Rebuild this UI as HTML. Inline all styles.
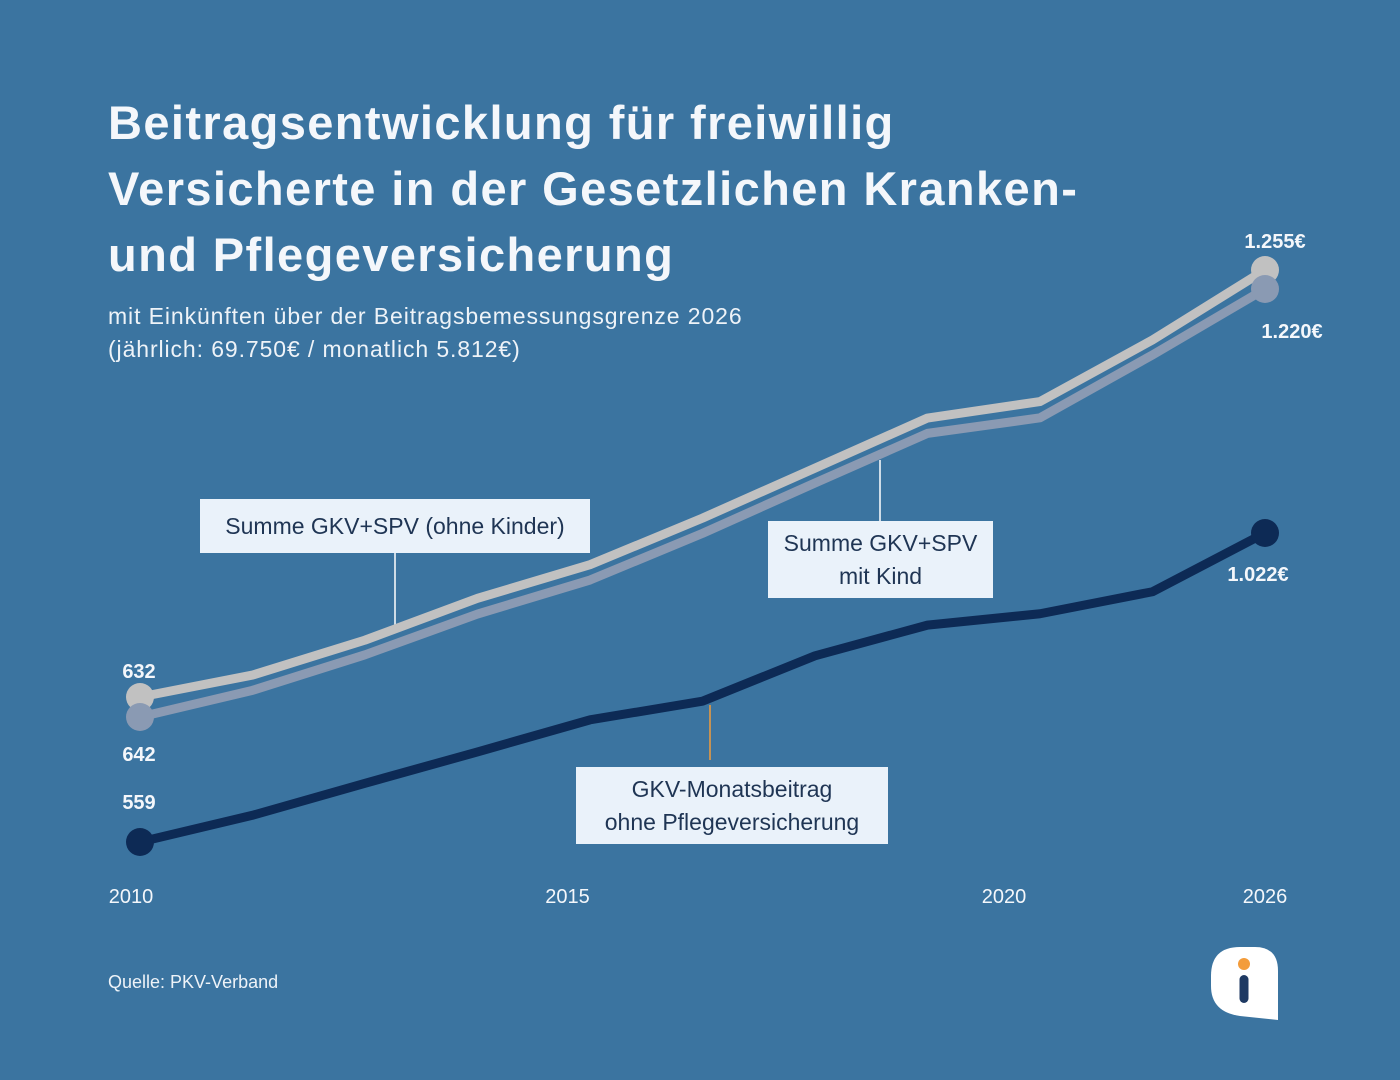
<!DOCTYPE html>
<html><head><meta charset="utf-8"><style>
html,body{margin:0;padding:0;}
body{width:1400px;height:1080px;background:#3b74a0;position:relative;overflow:hidden;font-family:"Liberation Sans",sans-serif;color:#fff;}
.t{position:absolute;}
h1{position:absolute;left:108px;top:90px;margin:0;font-size:47px;line-height:66px;font-weight:bold;color:#f4f7fb;letter-spacing:1.4px;}
.sub{left:108px;top:300px;font-size:23px;line-height:33px;color:#eef3f8;letter-spacing:0.9px;}
.box{position:absolute;background:#eaf2fa;color:#1f3554;font-size:23px;text-align:center;line-height:33px;display:flex;align-items:center;justify-content:center;}
</style></head><body>
<h1>Beitragsentwicklung für freiwillig<br>Versicherte in der Gesetzlichen Kranken-<br>und Pflegeversicherung</h1>
<div class="t sub">mit Einkünften über der Beitragsbemessungsgrenze 2026<br>(jährlich: 69.750€ / monatlich 5.812€)</div>
<svg id="chart" width="1400" height="1080" style="position:absolute;left:0;top:0"></svg>
<div class="box" style="left:200px;top:499px;width:390px;height:54px">Summe GKV+SPV (ohne Kinder)</div>
<div class="box" style="left:768px;top:521px;width:225px;height:77px">Summe GKV+SPV<br>mit Kind</div>
<div class="box" style="left:576px;top:767px;width:312px;height:77px">GKV-Monatsbeitrag<br>ohne Pflegeversicherung</div>
<div class="t" style="left:108px;top:972px;font-size:18px;color:#eef3f8">Quelle: PKV-Verband</div>
<svg width="70" height="75" style="position:absolute;left:1210px;top:946px">
<path d="M30 1 H45 Q68 1 68 25 V74 L30 70 Q1 66 1 40 V30 Q1 1 30 1Z" fill="#fff"/>
<circle cx="34" cy="18" r="6" fill="#f39c3b"/>
<rect x="29.5" y="29" width="9" height="28" rx="4.5" fill="#1f3a63"/>
</svg>
<script>
const steps=[0,1,2,3,4,5,6,7,8,9,10];
const ohneKinder=[632,664,715,776,825,893,966,1039,1063,1153,1255];
const mitKind=[642,678,726,781,827,890,958,1025,1046,1131,1220];
const gkv=[559,599,647,694,742,770,838,884,901,934,1022];
const tickPos=[-0.08,3.8,7.68,10];
const tickLabels=['2010','2015','2020','2026'];
const NS='http://www.w3.org/2000/svg';
const svg=document.getElementById('chart');
const x=i=>140+i*112.5;
function mk(t,a){const e=document.createElementNS(NS,t);for(const k in a)e.setAttribute(k,a[k]);svg.appendChild(e);return e;}
function scale(arr,y0,y1){const a=arr[0],b=arr[arr.length-1];return v=>y0+(v-a)/(b-a)*(y1-y0);}
const sO=scale(ohneKinder,697,270),sM=scale(mitKind,717,289),sG=scale(gkv,842,533);
let l=mk('line',{x1:395,y1:553,x2:395,y2:632,stroke:'#fff','stroke-width':1.5});


l=mk('line',{x1:880,y1:460,x2:880,y2:521,stroke:'#fff','stroke-width':1.5});


l=mk('line',{x1:710,y1:705,x2:710,y2:760,stroke:'#f39c3b','stroke-width':1.5});


function series(data,s,color,name){
  const p=mk('polyline',{points:data.map((v,i)=>x(steps[i])+','+s(v)).join(' '),fill:'none',stroke:color,'stroke-width':9,'stroke-linejoin':'round'});
  
  
  [0,data.length-1].forEach(i=>{
    const c=mk('circle',{cx:x(steps[i]),cy:s(data[i]),r:14,fill:color});
    
    
  });
}
series(ohneKinder,sO,'#c1c1c1','ohne-kinder');
series(mitKind,sM,'#8a9ab3','mit-kind');
series(gkv,sG,'#0d2a55','gkv');
function lab(tx,lx,ly,name,anchor,size,w){
  const t=mk('text',{x:lx,y:ly,fill:'#f4f7fb','font-size':size||20,'font-weight':w||'bold','text-anchor':anchor||'middle','font-family':'Liberation Sans, sans-serif'});
  t.textContent=tx;
  
  
}
const fmt=v=>v>=1000?(String(v).replace(/(\d)(\d{3})$/,'$1.$2')+'€'):String(v);
lab(fmt(ohneKinder[0]),139,678,'value-ohne-kinder-start');
lab(fmt(mitKind[0]),139,761,'value-mit-kind-start');
lab(fmt(gkv[0]),139,809,'value-gkv-start');
lab(fmt(ohneKinder[10]),1275,248,'value-ohne-kinder-end');
lab(fmt(mitKind[10]),1292,338,'value-mit-kind-end');
lab(fmt(gkv[10]),1258,581,'value-gkv-end');
tickLabels.forEach((t,i)=>lab(t,x(tickPos[i]),903,'x-tick-'+t,'middle',20,'normal'));
</script>
</body></html>
